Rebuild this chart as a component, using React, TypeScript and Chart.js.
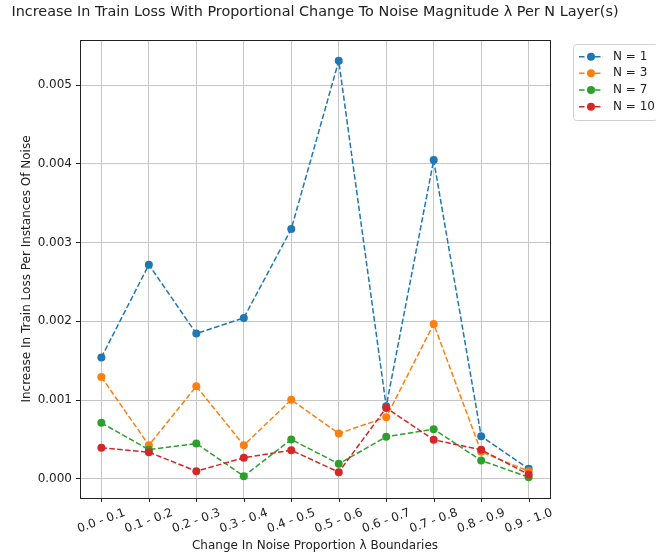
import React, { useEffect, useRef } from "react";
import { Chart, registerables } from "chart.js";

Chart.register(...registerables);

const categories = [
  "0.0 - 0.1", "0.1 - 0.2", "0.2 - 0.3", "0.3 - 0.4", "0.4 - 0.5",
  "0.5 - 0.6", "0.6 - 0.7", "0.7 - 0.8", "0.8 - 0.9", "0.9 - 1.0",
];

const n1 = [0.00154, 0.00272, 0.001844, 0.002043, 0.003173, 0.00531, 0.00092, 0.00405, 0.00054, 0.000127];
const n3 = [0.001294, 0.000426, 0.001175, 0.000426, 0.001003, 0.000575, 0.000782, 0.001967, 0.000343, 0.0000965];
const n7 = [0.00071, 0.00037, 0.000448, 0.000033, 0.000499, 0.00019, 0.000533, 0.00063, 0.000232, 0.00002];
const n10 = [0.000393, 0.000338, 0.0000965, 0.000266, 0.000363, 0.000084, 0.0009, 0.000495, 0.000368, 0.000055];

const seriesLabels = ["N = 1", "N = 3", "N = 7", "N = 10"];
const seriesColors = ["#1f77b4", "#ff7f0e", "#2ca02c", "#d62728"];
const yTicks = [0, 0.001, 0.002, 0.003, 0.004, 0.005];

const titleText = "Increase In Train Loss With Proportional Change To Noise Magnitude \u03bb Per N Layer(s)";
const xTitle = "Change In Noise Proportion \u03bb Boundaries";
const yTitle = "Increase In Train Loss Per Instances Of Noise";

const FONT = "'DejaVu Sans', sans-serif";
const DASH = [5.55, 2.4];
const TEXT = "#222";

const allValues = [...n1, ...n3, ...n7, ...n10];
const dataMin = Math.min(...allValues);
const dataMax = Math.max(...allValues);
const yMargin = (dataMax - dataMin) * 0.05;
const xMargin = (categories.length - 1) * 0.05;

const decorations = {
  id: "decorations",
  afterDraw(chart: any) {
    const { ctx, chartArea } = chart;
    const xScale = chart.scales.x;
    const { left, right, top, bottom } = chartArea;
    ctx.save();

    // axes frame
    ctx.strokeStyle = "#222";
    ctx.lineWidth = 1;
    ctx.setLineDash([]);
    ctx.strokeRect(Math.round(left) + 0.5, Math.round(top) + 0.5, Math.round(right - left), Math.round(bottom - top));

    // x tick marks and rotated labels
    ctx.fillStyle = TEXT;
    ctx.font = `12px ${FONT}`;
    categories.forEach((c, i) => {
      const x = xScale.getPixelForValue(i);
      ctx.beginPath();
      ctx.moveTo(Math.round(x) + 0.5, bottom);
      ctx.lineTo(Math.round(x) + 0.5, bottom + 4);
      ctx.stroke();
      ctx.save();
      ctx.translate(x, bottom + 23);
      ctx.rotate((-20 * Math.PI) / 180);
      ctx.textAlign = "center";
      ctx.textBaseline = "middle";
      ctx.fillText(c, 0, 0);
      ctx.restore();
    });

    // title and axis titles
    ctx.textAlign = "center";
    ctx.textBaseline = "middle";
    ctx.font = `14.4px ${FONT}`;
    ctx.fillText(titleText, (left + right) / 2, 12);
    ctx.font = `12px ${FONT}`;
    ctx.fillText(xTitle, (left + right) / 2, 546);
    ctx.save();
    ctx.translate(27, (top + bottom) / 2);
    ctx.rotate(-Math.PI / 2);
    ctx.fillText(yTitle, 0, 0);
    ctx.restore();

    // legend
    const lx = right + 23;
    const ly = top + 4;
    const lw = 84;
    const lh = 76;
    ctx.beginPath();
    ctx.roundRect(lx + 0.5, ly + 0.5, lw, lh, 3);
    ctx.fillStyle = "rgba(255,255,255,0.8)";
    ctx.fill();
    ctx.strokeStyle = "#d0d0d0";
    ctx.lineWidth = 1;
    ctx.stroke();
    seriesLabels.forEach((label, i) => {
      const cy = ly + 12.7 + i * 16.67;
      ctx.strokeStyle = seriesColors[i];
      ctx.fillStyle = seriesColors[i];
      ctx.lineWidth = 1.5;
      ctx.setLineDash(DASH);
      ctx.beginPath();
      ctx.moveTo(lx + 6, cy);
      ctx.lineTo(lx + 30, cy);
      ctx.stroke();
      ctx.setLineDash([]);
      ctx.beginPath();
      ctx.arc(lx + 18, cy, 4, 0, Math.PI * 2);
      ctx.fill();
      ctx.fillStyle = TEXT;
      ctx.textAlign = "left";
      ctx.textBaseline = "middle";
      ctx.font = `12px ${FONT}`;
      ctx.fillText(label, lx + 40, cy);
    });

    ctx.restore();
  },
};

export default function App() {
  const canvasRef = useRef<HTMLCanvasElement | null>(null);

  useEffect(() => {
    if (!canvasRef.current) return;
    const series = [n1, n3, n7, n10];
    const chart = new Chart(canvasRef.current, {
      type: "line",
      data: {
        datasets: series.map((vals, s) => ({
          label: seriesLabels[s],
          data: vals.map((v, i) => ({ x: i, y: v })),
          borderColor: seriesColors[s],
          backgroundColor: seriesColors[s],
          borderWidth: 1.5,
          borderDash: DASH,
          pointRadius: 4,
          pointBorderWidth: 0,
          pointBackgroundColor: seriesColors[s],
          pointBorderColor: seriesColors[s],
          tension: 0,
          fill: false,
          order: series.length - s,
        })),
      },
      options: {
        animation: false,
        responsive: false,
        devicePixelRatio: 1,
        layout: { padding: { left: 0, top: 40, right: 106, bottom: 0 } },
        plugins: {
          legend: { display: false },
          title: { display: false },
          tooltip: { enabled: false },
        },
        scales: {
          x: {
            type: "linear",
            min: -xMargin,
            max: categories.length - 1 + xMargin,
            afterBuildTicks: (scale: any) => {
              scale.ticks = categories.map((_, i) => ({ value: i }));
            },
            afterFit: (scale: any) => {
              scale.height = 61;
            },
            ticks: { display: false },
            grid: { color: "#c6c6c6", lineWidth: 1, drawTicks: false },
            border: { display: false },
          },
          y: {
            type: "linear",
            min: dataMin - yMargin,
            max: dataMax + yMargin,
            afterBuildTicks: (scale: any) => {
              scale.ticks = yTicks.map((v) => ({ value: v }));
            },
            afterFit: (scale: any) => {
              scale.width = 80;
            },
            ticks: {
              padding: 4,
              color: TEXT,
              font: { family: "DejaVu Sans", size: 12 },
              callback: (v: any) => Number(v).toFixed(3),
            },
            grid: { color: "#c6c6c6", lineWidth: 1, tickLength: 4, tickColor: "#222" },
            border: { display: false },
          },
        },
      },
      plugins: [decorations],
    });
    return () => chart.destroy();
  }, []);

  return (
    <div style={{ position: "fixed", left: 0, top: 0, width: 656, height: 559, background: "#fff" }}>
      <canvas ref={canvasRef} width={656} height={559} style={{ width: 656, height: 559 }} />
    </div>
  );
}
